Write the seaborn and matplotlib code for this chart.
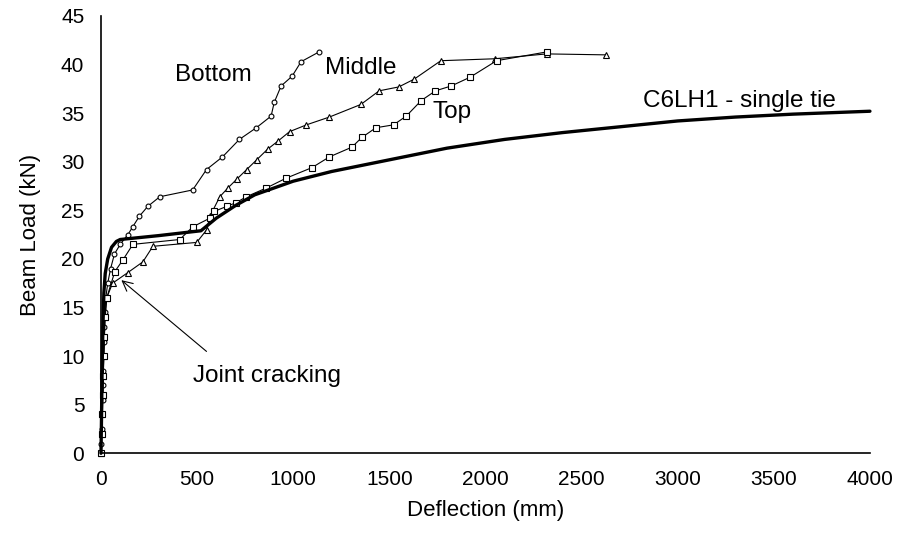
import matplotlib
matplotlib.use("Agg")
import matplotlib.pyplot as plt
import seaborn as sns
import pandas as pd

# ---- data ----
c6_x = [0, 3, 6, 10, 15, 22, 35, 55, 80, 100, 300, 520, 600, 700, 800, 1000, 1200,
        1500, 1800, 2100, 2400, 2700, 3000, 3300, 3600, 4000]
c6_y = [0, 4, 9, 13, 16.5, 18.5, 20, 21.2, 21.8, 22.0, 22.4, 22.9, 24.2, 25.5, 26.6,
        28.0, 29.0, 30.2, 31.4, 32.3, 33.0, 33.6, 34.2, 34.6, 34.9, 35.2]

bottom_x = [0, 2, 4, 6, 8, 10, 12, 14, 16, 18, 20, 25, 35, 50, 70, 100, 140, 165, 200,
            243, 306, 477, 549, 632, 720, 808, 885, 901, 937, 994, 1041, 1134]
bottom_y = [0, 1, 2.5, 4, 5.5, 7, 8.5, 10, 11.5, 13, 14.5, 16, 17.5, 19, 20.5, 21.5,
            22.5, 23.3, 24.4, 25.4, 26.4, 27.1, 29.2, 30.5, 32.3, 33.5, 34.7, 36.1,
            37.8, 38.8, 40.3, 41.3]

middle_x = [0, 3, 6, 9, 12, 15, 18, 22, 30, 60, 140, 218, 270, 498, 550, 567, 618, 660,
            706, 758, 810, 867, 919, 981, 1069, 1188, 1352, 1447, 1549, 1629, 1768,
            2050, 2318, 2627]
middle_y = [0, 2, 4, 6, 8, 10, 12, 14, 16, 17.5, 18.6, 19.7, 21.3, 21.7, 23.0, 24.4,
            26.4, 27.3, 28.2, 29.2, 30.2, 31.3, 32.1, 33.1, 33.8, 34.6, 35.9, 37.3,
            37.7, 38.5, 40.4, 40.6, 41.1, 41.0]

top_x = [0, 4, 7, 10, 12, 14, 16, 20, 30, 72, 114, 166, 410, 477, 567, 590, 653, 704,
         756, 860, 962, 1098, 1188, 1305, 1357, 1430, 1522, 1588, 1666, 1740, 1822,
         1920, 2058, 2318]
top_y = [0, 2, 4, 6, 8, 10, 12, 14, 16, 18.7, 19.9, 21.5, 22.0, 23.3, 24.2, 24.9, 25.4,
         25.8, 26.4, 27.3, 28.3, 29.4, 30.5, 31.5, 32.5, 33.5, 33.8, 34.7, 36.3, 37.3,
         37.8, 38.7, 40.4, 41.3]

x_ticks = [0, 500, 1000, 1500, 2000, 2500, 3000, 3500, 4000]
y_ticks = [0, 5, 10, 15, 20, 25, 30, 35, 40, 45]

# ---- style ----
sns.set_style("white")
plt.rcParams["font.family"] = ["Liberation Sans", "DejaVu Sans"]
plt.rcParams["text.color"] = "black"
FS_TICK = 15
FS = 17.5

fig = plt.figure(figsize=(9, 5.46), dpi=100)
ax = fig.add_axes([0.1122, 0.1698, 0.8544, 0.8009])

c6 = pd.DataFrame({"x": c6_x, "y": c6_y})
bot = pd.DataFrame({"x": bottom_x, "y": bottom_y})
mid = pd.DataFrame({"x": middle_x, "y": middle_y})
top = pd.DataFrame({"x": top_x, "y": top_y})

thin = dict(color="black", linewidth=0.8, sort=False, estimator=None,
            markerfacecolor="white", markeredgecolor="black", markeredgewidth=0.8,
            clip_on=False)
sns.lineplot(data=bot, x="x", y="y", marker="o", markersize=3.5, ax=ax, **thin)
sns.lineplot(data=mid, x="x", y="y", marker="^", markersize=5, ax=ax, **thin)
sns.lineplot(data=top, x="x", y="y", marker="s", markersize=4.5, ax=ax, **thin)
sns.lineplot(data=c6, x="x", y="y", color="black", linewidth=2.4, sort=False,
             estimator=None, ax=ax, clip_on=False)

ax.set_xlim(0, 4000)
ax.set_ylim(0, 45)
ax.set_xticks(x_ticks)
ax.set_yticks(y_ticks)
ax.set_xticklabels([str(v) for v in x_ticks], fontsize=FS_TICK)
ax.set_yticklabels([str(v) for v in y_ticks], fontsize=FS_TICK)
ax.tick_params(axis="both", direction="inout", length=10, width=1, color="black",
               labelcolor="black")
ax.tick_params(axis="x", pad=7)
ax.tick_params(axis="y", pad=7)

for s in ["top", "right"]:
    ax.spines[s].set_visible(False)
for s in ["left", "bottom"]:
    ax.spines[s].set_color("black")
    ax.spines[s].set_linewidth(1.2)

ax.set_xlabel("Deflection (mm)", fontsize=FS_TICK + 1, color="black", labelpad=8)
ax.set_ylabel("Beam Load (kN)", fontsize=FS_TICK + 1, color="black", labelpad=14)

ax.text(385, 38.3, "Bottom", fontsize=FS, ha="left", va="baseline", color="black")
ax.text(1165, 39.0, "Middle", fontsize=FS, ha="left", va="baseline", color="black")
ax.text(1722, 34.5, "Top", fontsize=FS, ha="left", va="baseline", color="black")
ax.text(2820, 35.6, "C6LH1 - single tie", fontsize=FS, ha="left", va="baseline",
        color="black")

ax.annotate("", xy=(95, 18.0), xytext=(560, 10.3),
            arrowprops=dict(arrowstyle="->", color="black", lw=0.8,
                            mutation_scale=18))
ax.text(478, 7.3, "Joint cracking", fontsize=FS, ha="left", va="baseline",
        color="black")

fig.savefig("out.png", dpi=100, facecolor="white")
